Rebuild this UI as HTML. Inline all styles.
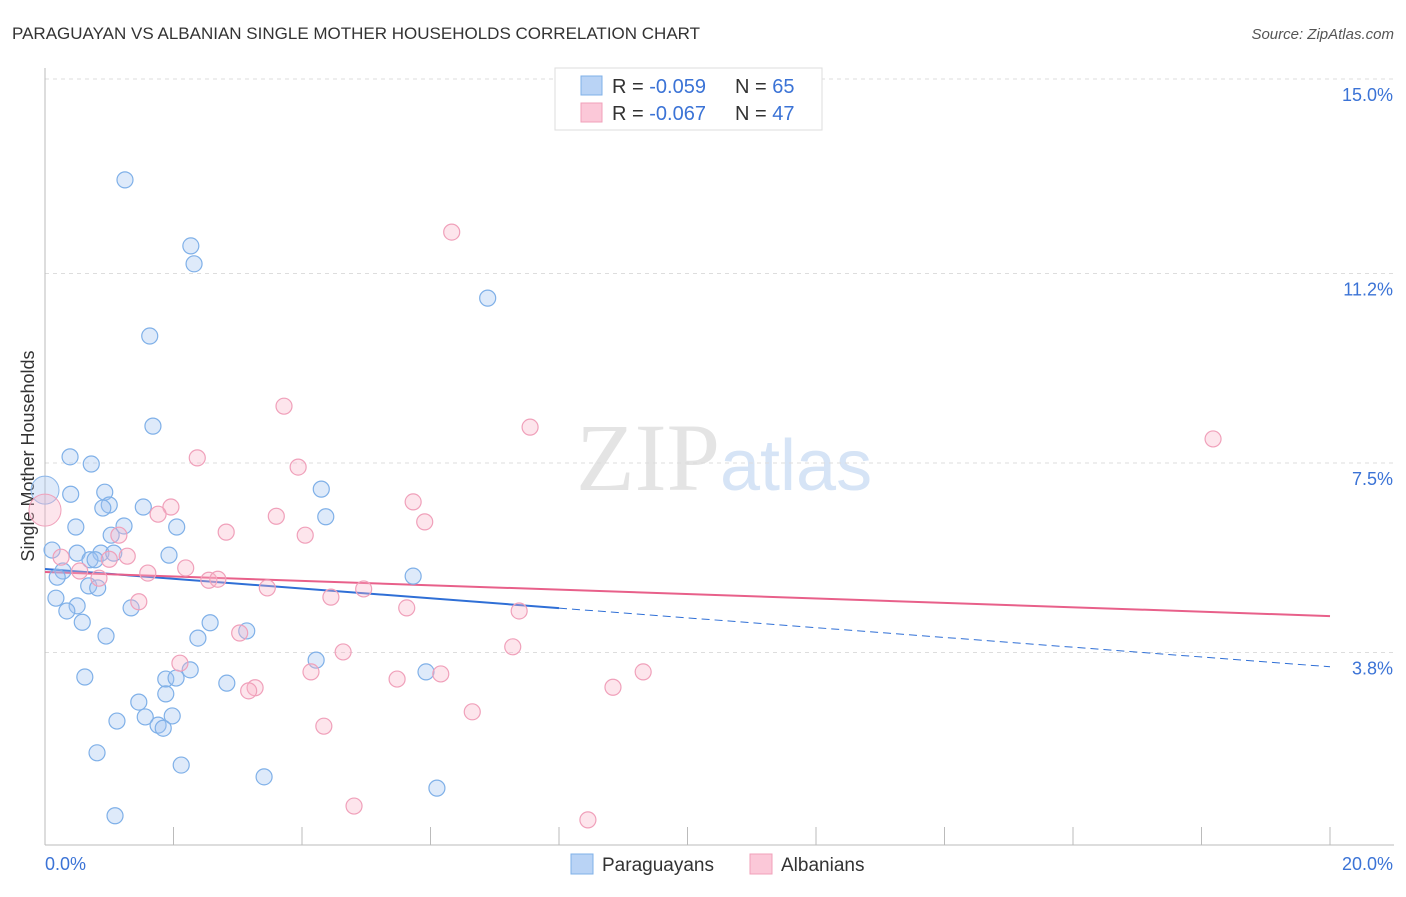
<!DOCTYPE html>
<html><head><meta charset="utf-8"><style>
body{margin:0;background:#fff;font-family:"Liberation Sans",sans-serif;}
</style></head><body>
<svg id="chart" width="1406" height="892" xmlns="http://www.w3.org/2000/svg" font-family="Liberation Sans, sans-serif">
<text x="12" y="39" font-size="17" fill="#333">PARAGUAYAN VS ALBANIAN SINGLE MOTHER HOUSEHOLDS CORRELATION CHART</text>
<text x="1394" y="39" font-size="15" fill="#555" text-anchor="end" font-style="italic">Source: ZipAtlas.com</text>
<text x="720" y="490" font-size="96" fill="#e4e4e4" text-anchor="end" font-family="Liberation Serif, serif">ZIP</text>
<text x="720" y="490" font-size="72" fill="#d6e4f6">atlas</text>
<text transform="translate(34,456) rotate(-90)" font-size="18" fill="#333" text-anchor="middle">Single Mother Households</text>
<g id="grid"></g><g id="axes"></g><g id="trends"></g><g id="points"></g>
<g>
<rect x="555" y="68" width="267" height="62" fill="#fff" stroke="#ddd"/>
<rect x="581" y="76" width="21" height="19" fill="#b9d3f5" stroke="#7fb0e8"/>
<rect x="581" y="103" width="21" height="19" fill="#fbc8d8" stroke="#f0a0ba"/>
<text x="612" y="93" font-size="20" fill="#333">R = <tspan fill="#3b73d6">-0.059</tspan><tspan x="735">N = </tspan><tspan fill="#3b73d6">65</tspan></text>
<text x="612" y="120" font-size="20" fill="#333">R = <tspan fill="#3b73d6">-0.067</tspan><tspan x="735">N = </tspan><tspan fill="#3b73d6">47</tspan></text>
</g>
<g>
<rect x="571" y="854" width="22" height="20" fill="#b9d3f5" stroke="#7fb0e8"/>
<text x="602" y="871" font-size="19" fill="#333">Paraguayans</text>
<rect x="750" y="854" width="22" height="20" fill="#fbc8d8" stroke="#f0a0ba"/>
<text x="781" y="871" font-size="19" fill="#333">Albanians</text>
</g>
</svg>
<script>
const yTicks=[3.8,7.5,11.2,15.0];
const yTickLabels=["3.8%","7.5%","11.2%","15.0%"];
const xTickCount=10;
const blueX=[1.245,2.27,2.32,6.89,1.63,1.68,0.39,0.72,0.40,0.93,4.30,1.00,0.90,1.53,4.37,0.48,1.23,2.05,1.03,0.11,0.50,0.87,1.07,1.93,0.70,0.78,0.28,0.19,5.73,0.68,0.82,0.17,0.50,0.34,1.34,0.58,2.57,0.95,3.14,2.38,4.22,2.26,0.62,1.88,2.04,2.83,5.93,1.88,1.46,1.12,1.56,1.98,1.76,1.84,0.81,2.12,3.41,6.10,1.09];
const blueY=[13.03,11.74,11.39,10.72,9.98,8.22,7.62,7.48,6.89,6.93,6.99,6.68,6.62,6.64,6.45,6.25,6.27,6.25,6.09,5.80,5.74,5.74,5.74,5.70,5.61,5.61,5.39,5.27,5.29,5.10,5.06,4.86,4.71,4.61,4.67,4.39,4.38,4.12,4.22,4.08,3.65,3.46,3.32,3.28,3.30,3.20,3.42,2.99,2.83,2.46,2.54,2.56,2.38,2.32,1.84,1.60,1.37,1.15,0.61];
const pinkX=[6.33,3.72,7.55,18.18,2.37,3.94,5.73,1.96,1.76,3.60,5.91,2.82,4.05,1.15,1.28,1.00,0.25,2.19,1.60,0.54,0.84,2.55,2.69,3.46,4.96,4.45,1.46,5.63,7.38,3.03,7.28,4.64,2.10,4.14,6.16,5.48,9.31,8.84,3.27,3.17,6.65,4.34,4.81,8.45];
const pinkY=[12.01,8.61,8.20,7.97,7.60,7.42,6.74,6.64,6.50,6.46,6.35,6.15,6.09,6.09,5.68,5.62,5.66,5.45,5.35,5.39,5.25,5.21,5.23,5.06,5.04,4.88,4.79,4.67,4.61,4.18,3.91,3.81,3.59,3.42,3.38,3.28,3.42,3.12,3.11,3.05,2.64,2.36,0.80,0.53];
const bigBlue=[0,6.97], bigPink=[0,6.58];
const blueTrend=[5.43,3.52], pinkTrend=[5.37,4.51];
const blueSolidEnd=8.0;
const X=v=>45+v/20*1285, Y=v=>847-v/3.75*192;
const NS="http://www.w3.org/2000/svg";
function mk(tag,attrs,parent,text){const e=document.createElementNS(NS,tag);for(const k in attrs)e.setAttribute(k,attrs[k]);if(text!==undefined)e.textContent=text;document.getElementById(parent).appendChild(e);return e;}
yTicks.forEach((t,i)=>{
 const g=mk('line',{x1:45,x2:1394,y1:Y(t),y2:Y(t),stroke:'#ddd','stroke-dasharray':'4,4'},'grid');
 
 
 const l=mk('text',{x:1393,y:Y(t)+22,'font-size':18,fill:'#3b73d6','text-anchor':'end'},'axes',yTickLabels[i]);
 
 
});
const ax=mk('line',{x1:45,x2:1394,y1:845,y2:845,stroke:'#bbb'},'axes');


const ay=mk('line',{x1:45,x2:45,y1:68,y2:845,stroke:'#bbb'},'axes');


for(let i=0;i<=xTickCount;i++){
 const t=mk('line',{x1:X(i*2),x2:X(i*2),y1:827,y2:845,stroke:'#bbb'},'axes');
 
 
}
const xl0=mk('text',{x:45,y:870,'font-size':18,fill:'#3b73d6'},'axes','0.0%');


const xl1=mk('text',{x:1393,y:870,'font-size':18,fill:'#3b73d6','text-anchor':'end'},'axes','20.0%');


function ty(tr,x){return tr[0]+(tr[1]-tr[0])*x/20;}
const bs=mk('line',{x1:X(0),y1:Y(ty(blueTrend,0)),x2:X(blueSolidEnd),y2:Y(ty(blueTrend,blueSolidEnd)),stroke:'#2f6fd6','stroke-width':2},'trends');


const bd=mk('line',{x1:X(blueSolidEnd),y1:Y(ty(blueTrend,blueSolidEnd)),x2:X(20),y2:Y(ty(blueTrend,20)),stroke:'#2f6fd6','stroke-width':1,'stroke-dasharray':'8,5'},'trends');


const pt=mk('line',{x1:X(0),y1:Y(ty(pinkTrend,0)),x2:X(20),y2:Y(ty(pinkTrend,20)),stroke:'#e8608a','stroke-width':2},'trends');


const bb=mk('circle',{cx:X(bigBlue[0]),cy:Y(bigBlue[1]),r:14,fill:'rgba(160,196,240,0.35)',stroke:'#8ab6ea'},'points');


const bp=mk('circle',{cx:X(bigPink[0]),cy:Y(bigPink[1]),r:16,fill:'rgba(248,180,200,0.35)',stroke:'#f0a0ba'},'points');


blueX.forEach((x,i)=>{
 const c=mk('circle',{cx:X(x),cy:Y(blueY[i]),r:8,fill:'rgba(160,196,240,0.35)',stroke:'#7fb0e8','stroke-width':1.2},'points');
 
 
});
pinkX.forEach((x,i)=>{
 const c=mk('circle',{cx:X(x),cy:Y(pinkY[i]),r:8,fill:'rgba(248,180,200,0.35)',stroke:'#f0a0ba','stroke-width':1.2},'points');
 
 
});
</script>
</body></html>
